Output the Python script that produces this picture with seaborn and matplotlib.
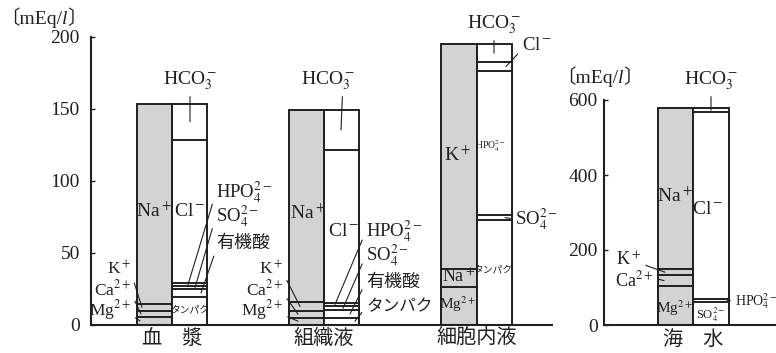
import numpy as np
import pandas as pd
import matplotlib
matplotlib.use("Agg")
import matplotlib.pyplot as plt
import seaborn as sns
from matplotlib.offsetbox import TextArea, HPacker, AnnotationBbox

# mEq/l, each list runs from the bottom of the column to the top
plasma_cations = [5.0, 4.7, 4.6, 139.2]            # Mg2+, Ca2+, K+, Na+
plasma_anions = [19.0, 5.7, 1.8, 2.3, 99.7, 25.0]  # タンパク, 有機酸, SO4, HPO4, Cl, HCO3
tissue_cations = [4.6, 5.1, 5.7, 133.9]
tissue_anions = [4.6, 5.4, 2.6, 2.6, 105.8, 28.3]
cell_cations = [25.8, 12.7, 156.2]                 # Mg2+, Na+, K+
cell_anions = [72.6, 3.4, 100.2, 6.2, 12.3]        # タンパク, SO4, HPO4, Cl, HCO3
sea_cations = [104.0, 29.0, 15.5, 429.5]           # Mg2+, Ca2+, K+, Na+
sea_anions = [62.0, 6.5, 498.5, 11.0]              # SO4, HPO4, Cl, HCO3

fluid_labels = ["血　漿", "組織液", "細胞内液"]
sea_labels = ["海　水"]
left_ticks = [0, 50, 100, 150, 200]
right_ticks = [0, 200, 400, 600]

# layout (pixels)
W, H = 776, 353
LEFT_CENTERS = [81, 233, 385.7]
SEA_CENTERS = [89.3]
HALF = 17.65
GRAY = "#d3d3d3"
EDGE = "#231f20"
PAL = {"cation": GRAY, "anion": "white"}

sns.set_style("ticks")
plt.rcParams["font.family"] = ["Liberation Serif", "Noto Sans CJK JP"]
plt.rcParams["mathtext.fontset"] = "stix"

fig = plt.figure(figsize=(W / 100, H / 100), dpi=100)
axL = fig.add_axes([91 / W, (H - 324.5) / H, 461 / W, (324.5 - 36.7) / H])
axR = fig.add_axes([604 / W, (H - 325) / H, 172 / W, 225 / H])


def stacks(ax, columns, centers):
    # draw cumulative bars from the tallest down so every boundary shows
    xs, sides, tops = [], [], []
    for c, (cat, an) in zip(centers, columns):
        xs += [c - HALF, c + HALF]
        sides += ["cation", "anion"]
        tops += [np.cumsum(cat), np.cumsum(an)]
    for r in range(max(len(t) for t in tops)):
        df = pd.DataFrame({"x": xs, "side": sides,
                           "top": [t[-1 - r] if r < len(t) else 0.0 for t in tops]})
        sns.barplot(df, x="x", y="top", hue="side", palette=PAL, native_scale=True,
                    width=1, saturation=1, edgecolor=EDGE, linewidth=1.4,
                    errorbar=None, legend=False, ax=ax)


def mid(vals, i):
    return np.cumsum(vals)[i] - vals[i] / 2


def label(text, x, y, size=14, ha="center", va="center"):
    fig.text(x / W, 1 - y / H, text, fontsize=size, ha=ha, va=va, color=EDGE)


def note(ax, text, x, y, tx, ty, ha="left", rel=(0, 0.5), size=13.5, va="center"):
    ax.annotate(text, xy=(tx, ty), xycoords=("figure pixels", "data"),
                xytext=(x, H - y), textcoords="figure pixels", ha=ha, va=va,
                fontsize=size, color=EDGE,
                arrowprops=dict(arrowstyle="-", lw=0.8, color=EDGE,
                                shrinkA=1, shrinkB=0, relpos=rel))


def unit_label(x, y):
    parts = [TextArea("〔mEq/", textprops=dict(fontsize=14, color=EDGE)),
             TextArea("l", textprops=dict(fontsize=14, style="italic", color=EDGE)),
             TextArea("〕", textprops=dict(fontsize=14, color=EDGE))]
    box = HPacker(children=parts, align="baseline", pad=0, sep=0)
    fig.add_artist(AnnotationBbox(box, (x, H - y), xycoords="figure pixels",
                                  box_alignment=(0, 0.5), frameon=False))


stacks(axL, [(plasma_cations, plasma_anions), (tissue_cations, tissue_anions),
             (cell_cations, cell_anions)], LEFT_CENTERS)
stacks(axR, [(sea_cations, sea_anions)], SEA_CENTERS)

for ax, xmax, ymax, ticks, centers, names, pad in [
        (axL, 461, 200, left_ticks, LEFT_CENTERS, fluid_labels, 8),
        (axR, 172, 600, right_ticks, SEA_CENTERS, sea_labels, 4.5)]:
    ax.set_xlim(0, xmax)
    ax.set_ylim(0, ymax)
    ax.set_yticks(ticks)
    ax.set_xticks(centers, names)
    ax.set_xlabel("")
    ax.set_ylabel("")
    ax.tick_params(axis="y", direction="in", length=3, width=1, pad=pad,
                   labelsize=14, colors=EDGE)
    ax.tick_params(axis="x", length=0, pad=4, labelsize=14.5, colors=EDGE)
    sns.despine(ax=ax)
    for s in ["left", "bottom"]:
        ax.spines[s].set_linewidth(1.5)
        ax.spines[s].set_color(EDGE)
    ax.set_facecolor("none")

unit_label(0, 18)
unit_label(556, 77)

# plasma
note(axL, "HCO$_3^-$", 190, 92, 190, mid(plasma_anions, 5), ha="center", va="bottom", rel=(0.5, 0), size=14)
label("Na$^+$", 154, 211)
label("Cl$^-$", 190, 211)
note(axL, "HPO$_4^{2-}$", 216, 192, 188, mid(plasma_anions, 3))
note(axL, "SO$_4^{2-}$", 216, 216, 195, mid(plasma_anions, 2))
note(axL, "有機酸", 216, 243, 201, mid(plasma_anions, 1), rel=(0, 0.1), size=13)
label("タンパク", 190, 310, size=7)
note(axL, "K$^+$", 131, 269, 142, mid(plasma_cations, 2), ha="right", rel=(1, 0.3), size=12.5)
note(axL, "Ca$^{2+}$", 131, 289, 141, mid(plasma_cations, 1), ha="right", rel=(1, 0.3), size=12.5)
note(axL, "Mg$^{2+}$", 131, 310, 140, mid(plasma_cations, 0), ha="right", rel=(1, 0.3), size=12.5)

# interstitial fluid
note(axL, "HCO$_3^-$", 328, 92, 341, mid(tissue_anions, 5), ha="center", va="bottom", rel=(0.77, 0), size=14)
label("Na$^+$", 308, 213)
label("Cl$^-$", 344, 232)
note(axL, "HPO$_4^{2-}$", 366, 231, 335, mid(tissue_anions, 3))
note(axL, "SO$_4^{2-}$", 366, 255, 343, mid(tissue_anions, 2))
note(axL, "有機酸", 366, 282, 350, mid(tissue_anions, 1), size=13)
note(axL, "タンパク", 366, 307, 355, mid(tissue_anions, 0), size=12)
note(axL, "K$^+$", 283, 269, 300, mid(tissue_cations, 2), ha="right", rel=(1, 0.3), size=12.5)
note(axL, "Ca$^{2+}$", 283, 289, 298, mid(tissue_cations, 1), ha="right", rel=(1, 0.3), size=12.5)
note(axL, "Mg$^{2+}$", 283, 310, 298, mid(tissue_cations, 0), ha="right", rel=(1, 0.3), size=12.5)

# intracellular fluid
note(axL, "HCO$_3^-$", 494, 36, 494, mid(cell_anions, 4), ha="center", va="bottom", rel=(0.5, 0), size=14)
note(axL, "Cl$^-$", 522, 46, 506, mid(cell_anions, 3), rel=(0, 0.3))
label("HPO$_4^{2-}$", 490, 146, size=7)
label("K$^+$", 457, 155)
note(axL, "SO$_4^{2-}$", 515, 219, 505, mid(cell_anions, 1))
label("タンパク", 493, 270, size=7)
label("Na$^+$", 459, 277, size=13)
label("Mg$^{2+}$", 458, 304, size=11)

# sea water
note(axR, "HCO$_3^-$", 711, 92, 711, mid(sea_anions, 3), ha="center", va="bottom", rel=(0.5, 0), size=14)
label("Na$^+$", 675, 196)
label("Cl$^-$", 708, 210)
note(axR, "K$^+$", 616, 260, 665, mid(sea_cations, 2), rel=(1, 0.3), size=13)
note(axR, "Ca$^{2+}$", 615, 280, 664, mid(sea_cations, 1), rel=(1, 0.6), size=13)
label("Mg$^{2+}$", 675, 308, size=11)
label("SO$_4^{2-}$", 711, 315, size=9)
note(axR, "HPO$_4^{2-}$", 735, 301, 727, mid(sea_anions, 1), size=10)

fig.savefig("out.png", dpi=100, facecolor="white")
